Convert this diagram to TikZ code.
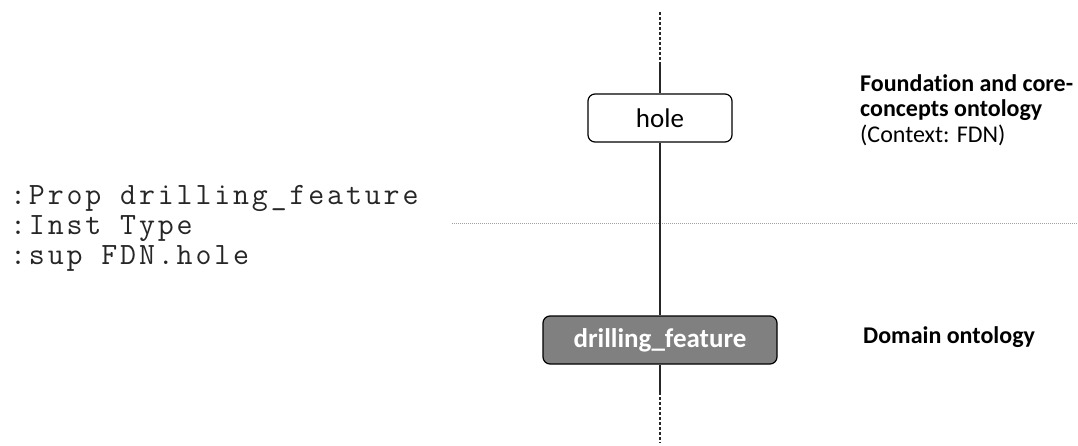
\documentclass[tikz,border=0pt]{standalone}
\usepackage{fontspec}
\setmainfont{Carlito}[Ligatures=NoCommon]
\setmonofont{Latin Modern Mono}[LetterSpace=9.2]
\begin{document}
\begin{tikzpicture}[x=1pt,y=-1pt,
  conn/.style={line width=1.2pt,black!85},
  dashconn/.style={line width=1.2pt,black!85,dash pattern=on 3pt off 2pt},
  classbox/.style={draw=black,line width=1.2pt,rounded corners=7pt,minimum height=48pt,inner sep=0pt,font=\fontsize{27}{30}\selectfont},
  holebox/.style={classbox,fill=white,minimum width=144pt},
  domainbox/.style={classbox,fill=black!50,text=white,minimum width=234pt,font=\fontsize{27}{30}\selectfont\bfseries},
  layerlabel/.style={anchor=base west,inner sep=0pt,align=left,font=\fontsize{24}{26}\selectfont},
  code/.style={anchor=base west,inner sep=0pt,text=black!85,font=\ttfamily\fontsize{31}{30}\selectfont}]
\useasboundingbox (0,0) rectangle (1078,446);
% layer separator
\coordinate (sepL) at (452,224);
\coordinate (sepR) at (1078,224);
\draw[gray!75,line width=1pt,dash pattern=on 1.2pt off 0.8pt] (sepL) -- (sepR);
% nodes
\node[holebox] (hole) at (660,118) {hole};
\node[domainbox] (drill) at (660,340) {drilling\_feature};
% connectors
\coordinate (topend) at (660,12);
\coordinate (topmid) at (660,65);
\coordinate (botmid) at (660,392);
\coordinate (botend) at (660,443);
\draw[dashconn] (topend) -- (topmid);
\draw[conn] (topmid) -- (hole.north);
\draw[conn] (hole.south) -- (drill.north);
\draw[conn] (drill.south) -- (botmid);
\draw[dashconn] (botmid) -- (botend);
% layer labels
\node[layerlabel] (fdnA) at (860,92) {\textbf{Foundation and core-}};
\node[layerlabel] (fdnB) at (860,117) {\textbf{concepts ontology}};
\node[layerlabel] (fdnC) at (860,143) {(Context: FDN)};
\node[layerlabel] (dom) at (863,343) {\textbf{Domain ontology}};
% code
\node[code] (c1) at (10,205) {:Prop drilling\_feature};
\node[code] (c2) at (10,235) {:Inst Type};
\node[code] (c3) at (10,265) {:sup FDN.hole};
\end{tikzpicture}
\end{document}
